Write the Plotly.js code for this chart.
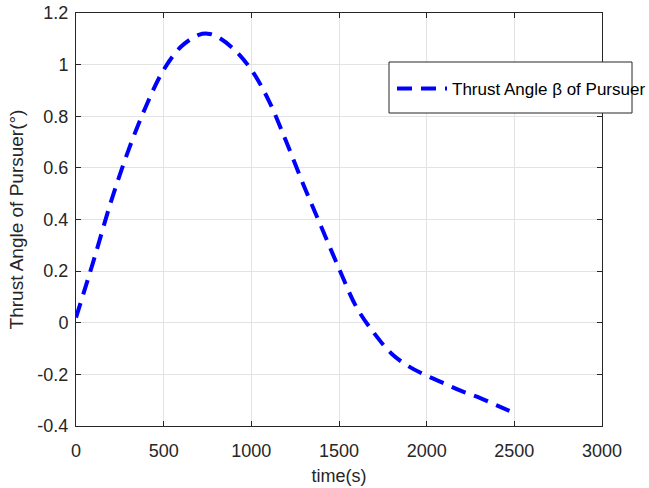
<!DOCTYPE html>
<html>
<head>
<meta charset="utf-8">
<script src="https://cdn.plot.ly/plotly-3.0.1.min.js"></script>
<style>
html,body{margin:0;padding:0;background:#fff;overflow:hidden;width:649px;height:488px;}
#chart{position:absolute;left:0;top:0;width:649px;height:488px;}
</style>
</head>
<body>
<div id="chart"></div>
<script>
const timeS = [0,100,200,300,400,500,600,700,750,800,900,1000,1100,1200,1300,1400,1500,1600,1700,1800,1900,2000,2100,2200,2300,2400,2500];
const thrustAngle = [0.02,0.24,0.47,0.67,0.84,0.98,1.07,1.115,1.12,1.11,1.06,0.98,0.86,0.70,0.53,0.37,0.21,0.06,-0.04,-0.12,-0.17,-0.205,-0.235,-0.265,-0.29,-0.32,-0.35];
const seriesName = 'Thrust Angle β of Pursuer';
const xTicks = [0,500,1000,1500,2000,2500,3000];
const yTicks = [-0.4,-0.2,0,0.2,0.4,0.6,0.8,1,1.2];
const yTickText = ['-0.4','-0.2','0','0.2','0.4','0.6','0.8','1','1.2'];

const FONT = 'Liberation Sans, Arial, Helvetica, sans-serif';
const PL = 76, PR = 602, PT = 13, PB = 426;
const PW = PR - PL, PH = PB - PT;

const axisCommon = {
  showline: true, linecolor: '#262626', linewidth: 1, mirror: 'allticks',
  ticks: 'inside', ticklen: 5, tickcolor: '#262626',
  showgrid: true, gridcolor: '#e3e3e3', gridwidth: 1, zeroline: false,
  automargin: false,
  tickfont: {family: FONT, size: 18, color: '#262626'}
};

const trace = {
  x: timeS, y: thrustAngle, type: 'scatter', mode: 'lines', name: seriesName,
  line: {color: '#0000ff', width: 4, dash: '15px,9px', shape: 'spline', smoothing: 1}
};

const layout = {
  width: 649, height: 488, autosize: false,
  margin: {l: PL, r: 649 - PR, t: PT, b: 488 - PB, autoexpand: false},
  paper_bgcolor: '#ffffff', plot_bgcolor: '#ffffff',
  showlegend: true,
  legend: {
    x: (392 - PL) / PW, y: 1 - (89 - PT) / PH, xanchor: 'left', yanchor: 'middle',
    bgcolor: 'rgba(0,0,0,0)', borderwidth: 0,
    font: {family: FONT, size: 17, color: '#000'},
    itemwidth: 50
  },
  shapes: [{
    type: 'rect', xref: 'paper', yref: 'paper', layer: 'above',
    x0: (389 - PL) / PW, x1: (632 - PL) / PW,
    y0: 1 - (113 - PT) / PH, y1: 1 - (62 - PT) / PH,
    line: {color: '#262626', width: 1}, fillcolor: '#ffffff'
  }],
  xaxis: Object.assign({}, axisCommon, {
    range: [0, 3000], tickvals: xTicks, ticklabelstandoff: 8,
    title: {text: 'time(s)', font: {family: FONT, size: 18, color: '#262626'}, standoff: 9}
  }),
  yaxis: Object.assign({}, axisCommon, {
    range: [-0.4, 1.2], tickvals: yTicks, ticktext: yTickText, ticklabelstandoff: 3,
    title: {text: 'Thrust Angle of Pursuer(°)', font: {family: FONT, size: 19, color: '#262626'}, standoff: 8}
  })
};

Plotly.newPlot('chart', [trace], layout, {displayModeBar: false, staticPlot: true});
</script>
</body>
</html>
